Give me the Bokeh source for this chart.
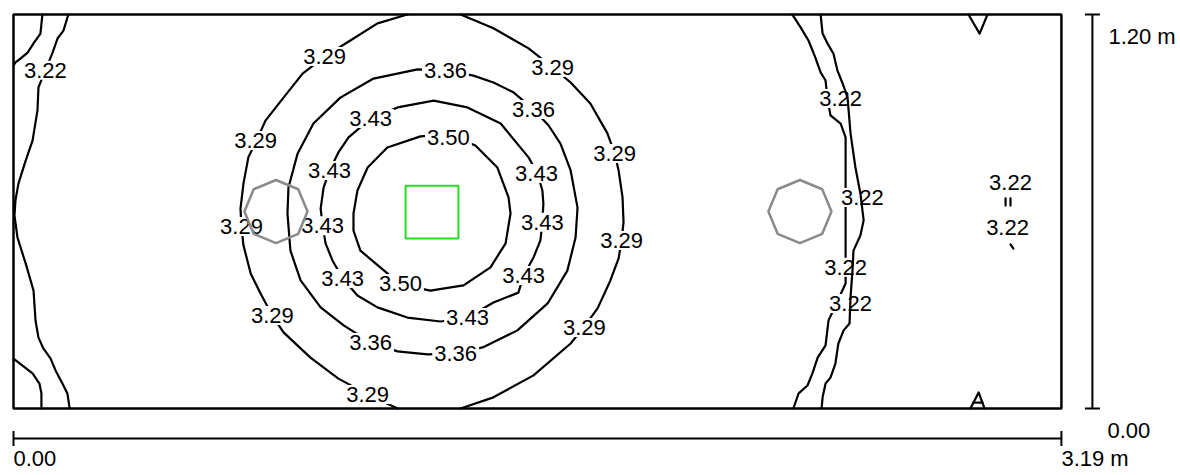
import numpy as np
from bokeh.plotting import figure
from bokeh.models import Range1d, ColumnDataSource
from bokeh.core.properties import value
from bokeh.embed import file_html
from bokeh.resources import INLINE

# ---------------- data (metres) ----------------
room_w = 3.19
room_h = 1.20
dim_text_x = ["0.00", "3.19 m"]
dim_text_y = ["0.00", "1.20 m"]

luminaire_x = [1.274]
luminaire_y = [0.598]
luminaire_size = 0.161

obstacle_x = [0.799, 2.394]
obstacle_y = [0.600, 0.600]
obstacle_r = 0.096

# isoline 3.50
iso_350 = [(1.324, 0.835), (1.239, 0.829), (1.138, 0.795), (1.078, 0.734), (1.047, 0.664),
           (1.035, 0.594), (1.035, 0.542), (1.056, 0.481), (1.102, 0.442), (1.178, 0.378),
           (1.269, 0.359), (1.370, 0.375), (1.452, 0.430), (1.498, 0.503), (1.513, 0.594),
           (1.507, 0.643), (1.473, 0.734), (1.406, 0.801), (1.324, 0.835)]
# isoline 3.43
iso_343 = [(1.087, 0.883), (1.169, 0.917), (1.279, 0.938), (1.382, 0.917), (1.483, 0.868),
           (1.568, 0.765), (1.595, 0.716), (1.610, 0.664), (1.613, 0.624), (1.610, 0.567),
           (1.604, 0.512), (1.583, 0.460), (1.553, 0.405), (1.537, 0.353), (1.461, 0.323),
           (1.382, 0.277), (1.300, 0.265), (1.199, 0.277), (1.108, 0.308), (1.047, 0.344),
           (1.002, 0.396), (0.971, 0.451), (0.950, 0.503), (0.941, 0.557), (0.935, 0.609),
           (0.944, 0.673), (0.962, 0.725), (0.989, 0.780), (1.020, 0.826), (1.087, 0.883)]
# isoline 3.36
iso_336 = [(1.315, 1.030), (1.230, 1.033), (1.096, 1.005), (0.995, 0.947), (0.913, 0.868),
           (0.865, 0.777), (0.837, 0.673), (0.834, 0.594), (0.843, 0.481), (0.874, 0.390),
           (0.935, 0.308), (1.005, 0.253), (1.087, 0.201), (1.169, 0.174), (1.260, 0.165),
           (1.346, 0.168), (1.428, 0.186), (1.534, 0.238), (1.626, 0.320), (1.686, 0.420),
           (1.711, 0.521), (1.717, 0.612), (1.696, 0.725), (1.665, 0.807), (1.629, 0.862),
           (1.583, 0.911), (1.522, 0.963), (1.461, 0.993), (1.400, 1.014), (1.315, 1.030)]
# isoline 3.29 (two arcs, clipped by the walls)
iso_329_a = [(1.199, 1.200), (1.108, 1.173), (1.035, 1.127), (0.947, 1.072), (0.880, 1.020),
             (0.822, 0.947), (0.767, 0.877), (0.740, 0.816), (0.715, 0.765), (0.700, 0.685),
             (0.691, 0.609), (0.694, 0.554), (0.700, 0.497), (0.722, 0.411), (0.752, 0.350),
             (0.788, 0.283), (0.822, 0.232), (0.904, 0.155), (0.989, 0.091), (1.078, 0.043),
             (1.169, 0.000)]
iso_329_b = [(1.361, 0.000), (1.461, 0.034), (1.583, 0.101), (1.696, 0.198), (1.738, 0.250),
             (1.778, 0.305), (1.817, 0.390), (1.842, 0.457), (1.851, 0.512), (1.857, 0.567),
             (1.854, 0.643), (1.842, 0.725), (1.830, 0.777), (1.808, 0.838), (1.756, 0.929),
             (1.696, 0.993), (1.641, 1.039), (1.568, 1.097), (1.461, 1.158), (1.361, 1.200)]
# isolines 3.22
iso_322_a = [(0.088, 1.200), (0.082, 1.142), (0.061, 1.112), (0.043, 1.084), (0.021, 1.066),
             (0.006, 1.054), (0.000, 1.045)]
iso_322_b = [(0.167, 1.200), (0.152, 1.151), (0.134, 1.127), (0.119, 1.084), (0.097, 1.030),
             (0.076, 0.978), (0.073, 0.908), (0.058, 0.816), (0.037, 0.755), (0.015, 0.685),
             (0.006, 0.634), (0.003, 0.588), (0.012, 0.521), (0.037, 0.442), (0.061, 0.359),
             (0.067, 0.268), (0.076, 0.216), (0.091, 0.183), (0.113, 0.152), (0.128, 0.116),
             (0.149, 0.076), (0.164, 0.046), (0.171, 0.000)]
iso_322_c = [(0.000, 0.152), (0.058, 0.107), (0.079, 0.076), (0.085, 0.046), (0.085, 0.000)]
iso_322_d = [(2.371, 1.200), (2.396, 1.161), (2.420, 1.121), (2.441, 1.069), (2.457, 1.024),
             (2.472, 0.999), (2.478, 0.944), (2.487, 0.893), (2.518, 0.868), (2.533, 0.826),
             (2.533, 0.704), (2.533, 0.643), (2.533, 0.594), (2.533, 0.490), (2.533, 0.430),
             (2.533, 0.381), (2.505, 0.320), (2.481, 0.268), (2.472, 0.192), (2.448, 0.155),
             (2.432, 0.107), (2.417, 0.070), (2.390, 0.046), (2.374, 0.000)]
iso_322_e = [(2.457, 1.200), (2.463, 1.142), (2.478, 1.112), (2.496, 1.081), (2.508, 1.030),
             (2.524, 0.990), (2.539, 0.947), (2.548, 0.838), (2.563, 0.734), (2.578, 0.655),
             (2.588, 0.573), (2.578, 0.527), (2.557, 0.481), (2.554, 0.420), (2.548, 0.338),
             (2.545, 0.259), (2.527, 0.238), (2.511, 0.198), (2.502, 0.137), (2.487, 0.094),
             (2.472, 0.076), (2.463, 0.034), (2.460, 0.000)]
iso_322_f = [(2.907, 1.200), (2.941, 1.142), (2.965, 1.200)]
iso_322_g = [(2.913, 0.000), (2.938, 0.049), (2.956, 0.000)]
iso_322_h = [(2.922, 0.018), (2.950, 0.018)]
iso_322_i = [(3.020, 0.640), (3.020, 0.618)]
iso_322_j = [(3.035, 0.640), (3.035, 0.618)]
iso_322_k = [(3.035, 0.500), (3.044, 0.487)]

label_text = ["3.22", "3.29", "3.36", "3.29", "3.36", "3.43", "3.50", "3.29", "3.29",
              "3.43", "3.43", "3.29", "3.43", "3.43", "3.29", "3.43", "3.50", "3.43",
              "3.43", "3.29", "3.29", "3.36", "3.36", "3.29",
              "3.22", "3.22", "3.22", "3.22", "3.22", "3.22"]
label_x = [0.097, 0.947, 1.315, 1.641, 1.583, 1.087, 1.324, 0.737, 1.830,
           0.962, 1.592, 0.694, 0.941, 1.610, 1.851, 1.002, 1.178, 1.553,
           1.382, 0.788, 1.738, 1.087, 1.346, 1.078,
           2.518, 2.584, 2.533, 2.548, 3.035, 3.026]
label_y = [1.030, 1.072, 1.030, 1.039, 0.911, 0.883, 0.826, 0.816, 0.777,
           0.725, 0.716, 0.554, 0.557, 0.567, 0.512, 0.396, 0.381, 0.405,
           0.277, 0.283, 0.247, 0.201, 0.168, 0.043,
           0.944, 0.643, 0.430, 0.320, 0.688, 0.551]

# ---------------- layout ----------------
W, H = 1180, 475
SX, SY = 328.5, 328.3          # px per metre
ox, oy = 13, 408               # room origin inside the canvas (px)
x0 = -ox / SX
y1 = oy / SY
x_range = Range1d(x0, x0 + W / SX)
y_range = Range1d(y1 - H / SY, y1)

p = figure(width=W, height=H, x_range=x_range, y_range=y_range,
           output_backend="svg", toolbar_location=None,
           x_axis_location=None, y_axis_location=None, min_border=0)
p.outline_line_color = None
p.grid.visible = False
p.background_fill_color = "white"
p.border_fill_color = "white"

FONT = value("Liberation Sans")
FS = "22px"


def split(path):
    return [pt[0] for pt in path], [pt[1] for pt in path]


under = [iso_350, iso_343, iso_336, iso_329_a, iso_329_b, iso_322_a, iso_322_b,
         iso_322_c, iso_322_d, iso_322_f, iso_322_g, iso_322_h, iso_322_i, iso_322_j,
         iso_322_k]
xs, ys = zip(*[split(c) for c in under])
p.multi_line(xs=list(xs), ys=list(ys), line_color="black", line_width=2.2,
             line_join="round", line_cap="round")

lab = ColumnDataSource(dict(x=label_x, y=label_y, t=label_text))
p.text(x="x", y="y", text="t", source=lab, text_font=FONT, text_font_size=FS,
       text_align="center", text_baseline="middle", text_color="black",
       background_fill_color="white", padding=2)

ex, ey = split(iso_322_e)
p.line(ex, ey, line_color="black", line_width=2.2, line_join="round", line_cap="round")

# obstacles (octagons) and luminaire
ang = np.deg2rad(np.arange(0, 360, 45))
oxs = [list(cx + obstacle_r * np.cos(ang)) for cx in obstacle_x]
oys = [list(cy + obstacle_r * np.sin(ang)) for cy in obstacle_y]
p.patches(xs=oxs, ys=oys, fill_color=None, line_color="#8a8a8a", line_width=2.5)
p.rect(x=luminaire_x, y=luminaire_y, width=luminaire_size, height=luminaire_size,
       fill_color=None, line_color="#22dd22", line_width=2)

# room outline
p.quad(left=[0], right=[room_w], bottom=[0], top=[room_h], fill_color=None,
       line_color="black", line_width=2.5)

# dimension lines
dy = -30 / SY
tk = 7.5 / SY
p.segment(x0=[0, 0, room_w], y0=[dy, dy - tk, dy - tk], x1=[room_w, 0, room_w],
          y1=[dy, dy + tk, dy + tk], line_color="black", line_width=2)
dx = room_w + 31 / SX
tkx = 7.5 / SX
p.segment(x0=[dx, dx - tkx, dx - tkx], y0=[0, 0, room_h], x1=[dx, dx + tkx, dx + tkx],
          y1=[room_h, 0, room_h], line_color="black", line_width=2)

p.text(x=[0, room_w], y=[-50 / SY, -50 / SY], text=dim_text_x, text_font=FONT,
       text_font_size=FS, text_align="left", text_baseline="middle", text_color="black")
p.text(x=[dx + 15 / SX, dx + 16 / SX], y=[-22 / SY, room_h - 22 / SY], text=dim_text_y,
       text_font=FONT, text_font_size=FS, text_align="left", text_baseline="alphabetic",
       text_color="black")

open("out.html", "w").write(file_html(p, INLINE))
